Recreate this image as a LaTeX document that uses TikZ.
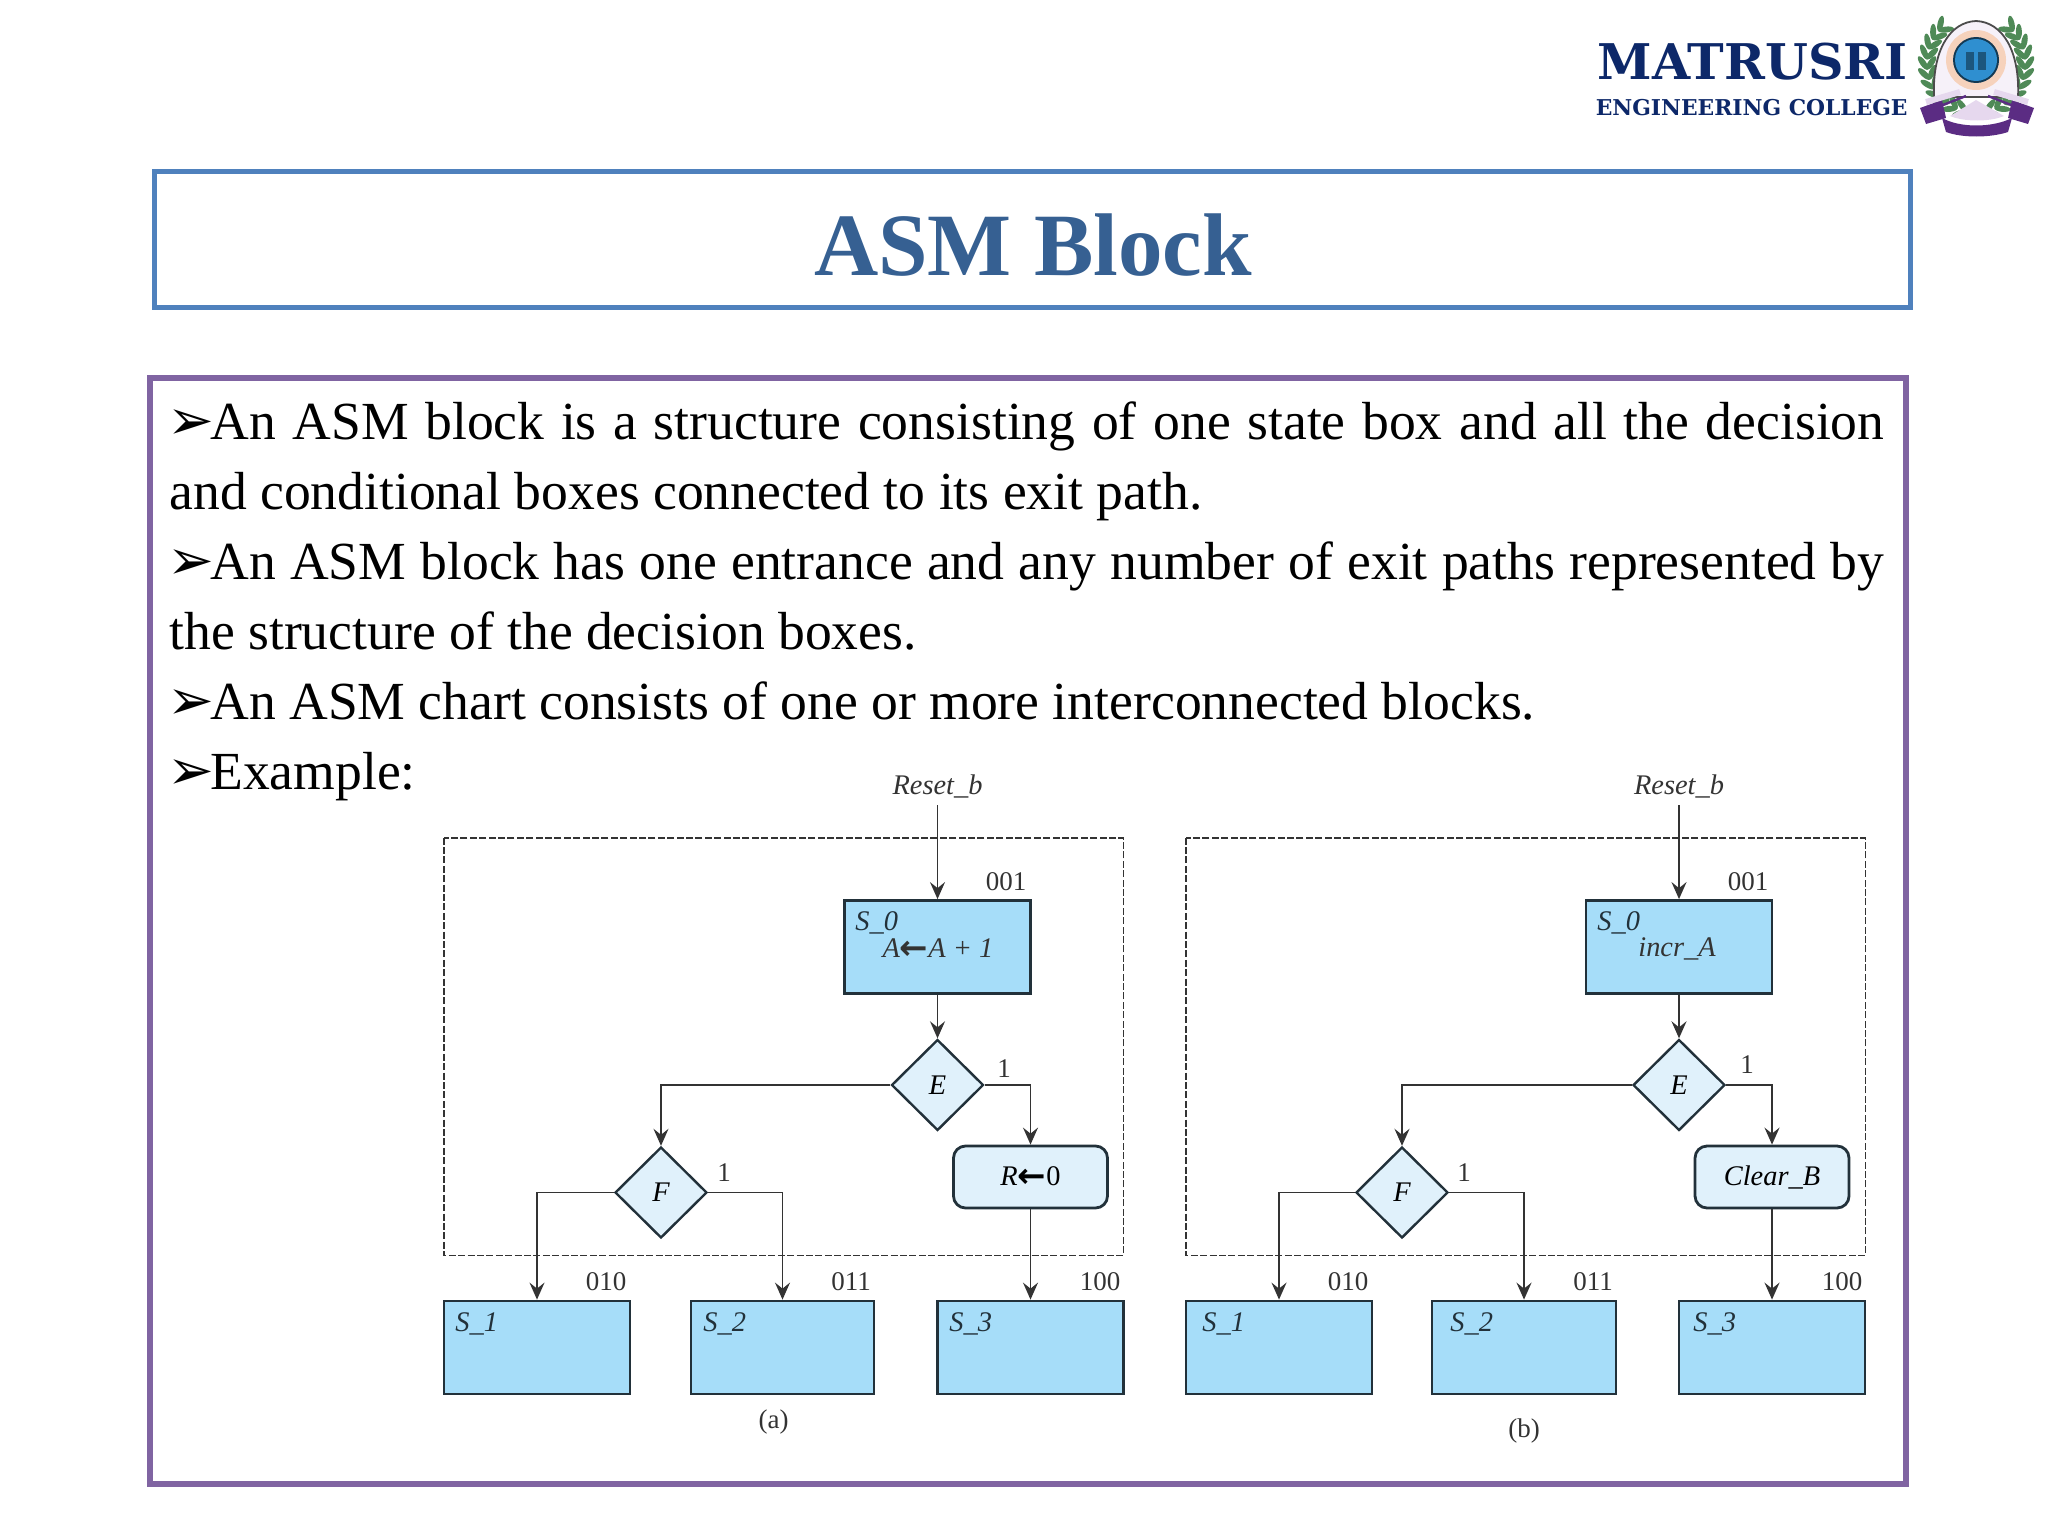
\documentclass[tikz,border=0pt]{standalone}
\usepackage{fontspec}
\usepackage{tikz}
\usetikzlibrary{shapes.geometric, arrows.meta}
\setmainfont{Liberation Serif}
\newfontfamily\symbolfont{DejaVu Sans}
\newfontfamily\logofont{DejaVu Serif}

\definecolor{titleblue}{HTML}{4F81BD}
\definecolor{titleink}{HTML}{366092}
\definecolor{panelpurple}{HTML}{8064A2}
\definecolor{logoink}{HTML}{0D2869}
\definecolor{boxblue}{HTML}{A6DDF9}
\definecolor{paleblue}{HTML}{E0F1FB}
\definecolor{boxline}{HTML}{22313A}
\definecolor{flowline}{HTML}{333333}
\definecolor{leafgreen}{HTML}{4F8A57}
\definecolor{crestpurple}{HTML}{5B2C83}
\definecolor{crestlilac}{HTML}{E6D8EE}
\definecolor{crestblue}{HTML}{2F8FD0}

\newcommand{\pointer}{\makebox[20pt][l]{\hspace{-1.5pt}\symbolfont\fontsize{28}{28}\selectfont ➢}}
\newcommand{\asmsize}{\fontsize{14.2}{15}\selectfont}
\newcommand{\loadarrow}{\raisebox{-1pt}{\symbolfont\bfseries\fontsize{17}{17}\selectfont ←}}

\tikzset{
    bodyline/.style = {anchor=base west, inner sep=0pt, font=\fontsize{26.8}{30}\selectfont},
    state/.style = {draw=boxline, line width=1.4pt, fill=boxblue, minimum height=46.5pt, inner sep=0pt},
    decision/.style = {diamond, draw=boxline, line width=1.2pt, fill=paleblue, inner sep=0pt, minimum width=46pt, minimum height=45.5pt, font=\asmsize\itshape},
    condition/.style = {rounded corners=6pt, draw=boxline, line width=1.4pt, fill=paleblue, minimum width=77pt, minimum height=31pt, inner sep=0pt, font=\asmsize\itshape},
    tag/.style = {anchor=west, inner sep=0pt, text=boxline, font=\asmsize\itshape},
    code/.style = {inner sep=0pt, text=flowline, font=\fontsize{13.5}{15}\selectfont},
    flow/.style = {draw=flowline, line width=.9pt, -{Stealth[length=8.5pt, width=7.5pt, inset=3pt]}},
    block/.style = {draw=flowline, line width=.9pt, dash pattern=on 3.5pt off 1.2pt},
    leaf/.style = {fill=leafgreen, draw=none}
}

\begin{document}
\begin{tikzpicture}[x=.5pt, y=-.5pt]
    \useasboundingbox (0,0) rectangle (2048,1536);

    % logo
    \node[anchor=east, inner sep=0pt, text=logoink, font=\logofont\bfseries\fontsize{24.6}{28}\selectfont] (matrusri) at (1908,62) {MATRUSRI};
    \node[anchor=east, inner sep=0pt, text=logoink, font=\logofont\bfseries\fontsize{10.9}{13}\selectfont] (college) at (1908,108) {ENGINEERING COLLEGE};

    % emblem
    \foreach \a in {-72,-60,...,48} {
        \fill[leaf, shift={(1976,63)}, rotate=\a, shift={(45,0)}, rotate=35] (0,0) ellipse (3 and 8);
        \fill[leaf, shift={(1976,63)}, rotate=\a, shift={(53,0)}, rotate=-35] (0,0) ellipse (3 and 8);
    }
    \foreach \a in {132,144,...,252} {
        \fill[leaf, shift={(1976,63)}, rotate=\a, shift={(45,0)}, rotate=-35] (0,0) ellipse (3 and 8);
        \fill[leaf, shift={(1976,63)}, rotate=\a, shift={(53,0)}, rotate=35] (0,0) ellipse (3 and 8);
    }
    \draw[fill=crestlilac!35, draw=black!70, line width=.9pt] (1934,97) .. controls (1932,50) and (1950,22) .. (1976,21) .. controls (2002,22) and (2020,50) .. (2018,97) -- cycle;
    \fill[crestlilac!60!orange!60] (1976,60) circle (30);
    \fill[black!60!crestblue] (1976,60) circle (23);
    \fill[crestblue] (1976,60) circle (21);
    \fill[crestblue!60!black] (1966,52) rectangle (1974,70);
    \fill[crestblue!60!black] (1978,52) rectangle (1986,70);
    \fill[crestpurple] (1920,108) -- (1942,100) -- (1946,118) -- (1926,124) -- cycle;
    \fill[crestpurple] (2034,108) -- (2012,100) -- (2008,118) -- (2028,124) -- cycle;
    \draw[crestlilac, line width=3pt] (1926,102) -- (1960,92);
    \draw[crestlilac, line width=3pt] (2028,102) -- (1994,92);
    \draw[crestpurple, line width=1.2pt] (1930,110) -- (1966,96);
    \draw[crestpurple, line width=1.2pt] (2024,110) -- (1988,96);
    \fill[crestpurple] (1942,118) .. controls (1960,128) and (1992,128) .. (2012,118) -- (2008,132) .. controls (1990,138) and (1962,138) .. (1946,132) -- cycle;
    \fill[crestlilac] (1950,116) -- (1976,100) -- (2004,116) .. controls (1990,122) and (1964,122) .. (1950,116) -- cycle;

    % frames
    \node[draw=titleblue, line width=2.5pt, minimum width=878pt, minimum height=68pt, inner sep=0pt] (titlebox) at (1032.5,239) {};
    \node[inner sep=0pt, text=titleink, font=\bfseries\fontsize{44.5}{50}\selectfont] (title) at (1033,245) {ASM Block};
    \node[draw=panelpurple, line width=3pt, minimum width=878pt, minimum height=553pt, inner sep=0pt] (panel) at (1027.5,930.5) {};

    % text
    \node[bodyline] (lineA) at (170,439) {\makebox[857pt][s]{\pointer An ASM block is a structure consisting of one state box and all the decision}};
    \node[bodyline] (lineB) at (169,509) {and conditional boxes connected to its exit path.};
    \node[bodyline] (lineC) at (170,579) {\makebox[857pt][s]{\pointer An ASM block has one entrance and any number of exit paths represented by}};
    \node[bodyline] (lineD) at (169,649) {the structure of the decision boxes.};
    \node[bodyline] (lineE) at (170,719) {\pointer An ASM chart consists of one or more interconnected blocks.};
    \node[bodyline] (lineF) at (170,789) {\pointer Example:};

    % chart a
    \node[draw=none, inner sep=0pt, minimum width=339.5pt, minimum height=208.5pt] (blocka) at (783.5,1046.5) {};
    \draw[block] (blocka.north west) rectangle (blocka.south east);
    \node[code, font=\asmsize\itshape] (reseta) at (937.5,786) {Reset\_b};
    \node[code] (codea) at (1006,882) {001};
    \node[state, minimum width=93pt] (s0a) at (937.5,947) {};
    \node[tag] (s0taga) at (855,923) {S\_0};
    \node[code, font=\asmsize\itshape] (loada) at (938,949) {A\loadarrow A + 1};
    \node[decision] (ea) at (937.5,1085) {E};
    \node[decision] (fa) at (661,1192.5) {F};
    \node[condition] (ra) at (1030.5,1177) {R\loadarrow\upshape 0};
    \node[code] (onea) at (1004,1069) {1};
    \node[code] (twoa) at (724,1173) {1};
    \node[state, minimum width=93pt] (s1a) at (537,1347.5) {};
    \node[state, minimum width=91.5pt] (s2a) at (782.5,1347.5) {};
    \node[state, minimum width=93pt] (s3a) at (1030.5,1347.5) {};
    \node[tag] (s1taga) at (455,1324) {S\_1};
    \node[tag] (s2taga) at (703,1324) {S\_2};
    \node[tag] (s3taga) at (949,1324) {S\_3};
    \node[code] (c1a) at (606,1282) {010};
    \node[code] (c2a) at (851,1282) {011};
    \node[code] (c3a) at (1100,1282) {100};
    \node[code] (capa) at (773.5,1422) {(a)};
    \draw[flow] (reseta.south) ++(0,7) -- (s0a.north);
    \draw[flow] (s0a.south) -- (ea.north);
    \draw[flow] (ea.west) -| (fa.north);
    \draw[flow] (ea.east) -| (ra.north);
    \draw[flow] (fa.west) -| (s1a.north);
    \draw[flow] (fa.east) -| (s2a.north);
    \draw[flow] (ra.south) -- (s3a.north);

    % chart b
    \node[draw=none, inner sep=0pt, minimum width=339.5pt, minimum height=208.5pt] (blockb) at (1525.5,1046.5) {};
    \draw[block] (blockb.north west) rectangle (blockb.south east);
    \node[code, font=\asmsize\itshape] (resetb) at (1679,786) {Reset\_b};
    \node[code] (codeb) at (1748,882) {001};
    \node[state, minimum width=93pt] (s0b) at (1679,947) {};
    \node[tag] (s0tagb) at (1597,923) {S\_0};
    \node[code, font=\asmsize\itshape] (loadb) at (1677,949) {incr\_A};
    \node[decision] (eb) at (1679,1085) {E};
    \node[decision] (fb) at (1402,1192.5) {F};
    \node[condition] (rb) at (1772,1177) {\raisebox{-2pt}{Clear\_B}};
    \node[code] (oneb) at (1747,1065) {1};
    \node[code] (twob) at (1464,1173) {1};
    \node[state, minimum width=93pt] (s1b) at (1279,1347.5) {};
    \node[state, minimum width=92pt] (s2b) at (1524,1347.5) {};
    \node[state, minimum width=93pt] (s3b) at (1772,1347.5) {};
    \node[tag] (s1tagb) at (1202,1324) {S\_1};
    \node[tag] (s2tagb) at (1450,1324) {S\_2};
    \node[tag] (s3tagb) at (1693,1324) {S\_3};
    \node[code] (c1b) at (1348,1282) {010};
    \node[code] (c2b) at (1593,1282) {011};
    \node[code] (c3b) at (1842,1282) {100};
    \node[code] (capb) at (1524,1431) {(b)};
    \draw[flow] (resetb.south) ++(0,7) -- (s0b.north);
    \draw[flow] (s0b.south) -- (eb.north);
    \draw[flow] (eb.west) -| (fb.north);
    \draw[flow] (eb.east) -| (rb.north);
    \draw[flow] (fb.west) -| (s1b.north);
    \draw[flow] (fb.east) -| (s2b.north);
    \draw[flow] (rb.south) -- (s3b.north);
\end{tikzpicture}
\end{document}
